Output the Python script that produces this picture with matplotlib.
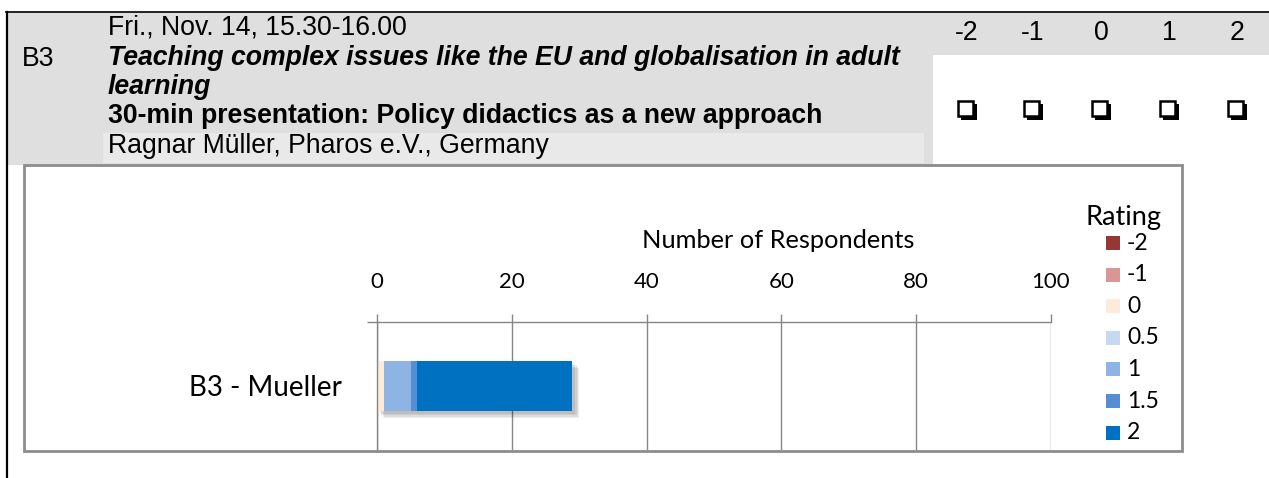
import numpy as np
import matplotlib
matplotlib.use("Agg")
import matplotlib.pyplot as plt
from matplotlib.patches import Rectangle
import matplotlib.patheffects as pe

# data
ratings = ["-2", "-1", "0", "0.5", "1", "1.5", "2"]
counts = [0, 0, 1, 0, 4, 1, 23]
colors = ["#953735", "#D99694", "#FDEADA", "#C6D9F1", "#8EB4E3", "#558ED5", "#0070C0"]
category = "B3 - Mueller"
xticks = [0, 20, 40, 60, 80, 100]

scale_labels = ["-2", "-1", "0", "1", "2"]
header_lines = [
    ("Fri., Nov. 14, 15.30-16.00", "normal", "normal"),
    ("Teaching complex issues like the EU and globalisation in adult", "bold", "italic"),
    ("learning", "bold", "italic"),
    ("30-min presentation: Policy didactics as a new approach", "bold", "normal"),
    ("Ragnar Müller, Pharos e.V., Germany", "normal", "normal"),
]
session = "B3"

W, H = 1269, 478
fig = plt.figure(figsize=(W / 100, H / 100), dpi=100)

# background layer in pixel coords
bg = fig.add_axes([0, 0, 1, 1])
bg.set_xlim(0, W)
bg.set_ylim(H, 0)
bg.axis("off")

gray = "#DFDFDF"
bg.add_patch(Rectangle((7, 12), 926, 153, color=gray, lw=0))
bg.add_patch(Rectangle((103, 133), 821, 30, color="#E9E9E9", lw=0))
bg.add_patch(Rectangle((933, 12), W - 933, 43, color=gray, lw=0))
bg.plot([6, W], [12, 12], color="black", lw=1.2)
bg.plot([7, 7], [12, H], color="black", lw=1.6)

hdr_font = "Liberation Sans"
hs = 19.2
line_y = [27, 58, 87, 116, 146]
for (txt, wt, st), y in zip(header_lines, line_y):
    bg.text(108, y, txt, fontsize=hs, family=hdr_font, weight=wt, style=st,
            va="center", ha="left")
bg.text(22, 59, session, fontsize=hs, family=hdr_font, va="center", ha="left")

col_x = [967, 1033, 1101, 1169, 1237]
for lab, x in zip(scale_labels, col_x):
    bg.text(x, 33, lab, fontsize=hs, family=hdr_font, va="center", ha="center")
    # check box with shadow
    bg.add_patch(Rectangle((x - 6, 104), 16, 16, color="black", lw=0))
    bg.add_patch(Rectangle((x - 9, 101), 15, 15, fc="white", ec="black", lw=1.8))

# chart frame
bg.add_patch(Rectangle((24, 165), 1158, 286, fill=False, ec="#8C8C8C", lw=2))

# chart axes
x0, x1, ytop, ybot = 377, 1051, 322, 450
ax = fig.add_axes([x0 / W, 1 - ybot / H, (x1 - x0) / W, (ybot - ytop) / H])
ax.set_xlim(0, 100)
ax.set_ylim(-0.5, 0.5)

shadow = [pe.SimplePatchShadow(offset=(k, -k), alpha=0.07, shadow_rgbFace="black")
          for k in (5, 4, 3, 2)]
left = 0
for lab, c, v in zip(ratings, colors, counts):
    ax.barh(0, v, left=left, height=0.39, color=c, lw=0,
            path_effects=shadow + [pe.Normal()])
    left += v

gc = "#868686"
chart_font = "Lato"
ax.xaxis.tick_top()
ax.set_xticks(xticks)
ax.set_xticklabels([str(t) for t in xticks], family=chart_font, fontsize=16)
ax.tick_params(axis="x", length=5.8, width=1, color=gc, pad=16)
ax.grid(axis="x", color=gc, lw=1)
ax.set_axisbelow(True)

ax.set_yticks([0])
ax.set_yticklabels([category], family=chart_font, fontsize=20)
ax.tick_params(axis="y", length=0, pad=25)
ax.set_yticks([0.5], minor=True)
ax.tick_params(axis="y", which="minor", length=7.2, width=1, color=gc)

for s in ["right", "bottom"]:
    ax.spines[s].set_visible(False)
for s in ["top", "left"]:
    ax.spines[s].set_color(gc)
    ax.spines[s].set_linewidth(1)

ax.xaxis.set_label_position("top")
ax.set_xlabel("Number of Respondents", family=chart_font, fontsize=18.3)
ax.xaxis.set_label_coords((778 - x0) / (x1 - x0), (ybot - 240) / (ybot - ytop))
ax.xaxis.label.set_va("center")

# legend
bg.text(1124, 218, "Rating", family=chart_font, fontsize=19.5, ha="center", va="center")
for i, (lab, c) in enumerate(zip(ratings, colors)):
    y = 243 + i * 31.6
    bg.add_patch(Rectangle((1106, y - 7), 14, 14, color=c, lw=0))
    bg.text(1127, y, lab, family=chart_font, fontsize=16.5, ha="left", va="center")

fig.savefig("out.png", dpi=100)
